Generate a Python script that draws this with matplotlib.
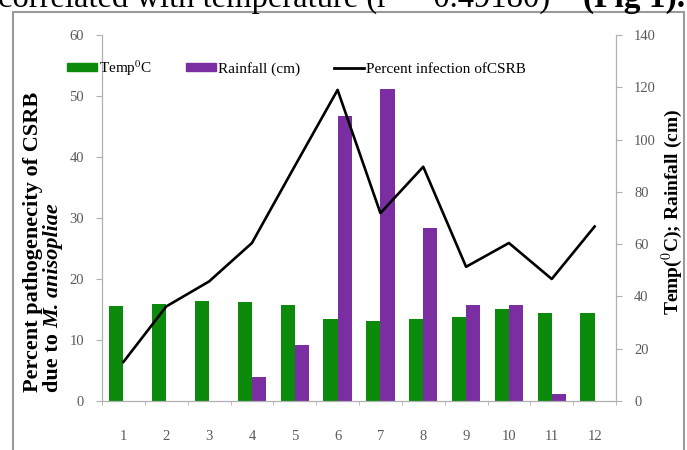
import matplotlib
matplotlib.use('Agg')
import matplotlib.pyplot as plt
from matplotlib.patches import Rectangle, Patch
from matplotlib.lines import Line2D
import numpy as np

plt.rcParams['font.family'] = ['Liberation Serif', 'DejaVu Serif']
plt.rcParams['mathtext.fontset'] = 'stix'

months = ['1', '2', '3', '4', '5', '6', '7', '8', '9', '10', '11', '12']
infection = [6.4, 15.5, 19.6, 25.9, 38.5, 51.0, 30.8, 38.4, 22.0, 25.9, 20.0, 28.6]
temp = [36.3, 37.2, 38.2, 37.8, 36.9, 31.4, 30.5, 31.4, 32.0, 35.3, 33.5, 33.7]
rain = [0, 0, 0, 9.1, 21.5, 109.0, 119.2, 66.0, 36.7, 36.7, 2.6, 0]

green = '#0b8a0b'
purple = '#7a2ea2'
tick_col = '#5a5a5a'
W, H = 687, 450

fig = plt.figure(figsize=(6.87, 4.5), dpi=100)

# cut-off sentence from the page above the figure
fig.text(-2 / W, 1 - 7 / H, 'correlated with temperature (r = -0.49180)', fontsize=23.5,
         ha='left', va='baseline', color='black')
fig.text(685 / W, 1 - 7 / H, '(Fig 1).', fontsize=24, fontweight='bold',
         ha='right', va='baseline', color='black')

# frame around the chart
fig.patches.append(Rectangle((13 / W, -0.05), (684 - 13) / W, 1.05 - 12 / H,
                             transform=fig.transFigure, fill=False, edgecolor='#9a9a9a',
                             linewidth=1.5))

ax = fig.add_axes([102 / W, 1 - 401 / H, (616 - 102) / W, (401 - 35) / H])
ax2 = ax.twinx()

x = np.arange(1, len(months) + 1)
w = 0.33
ax2.bar(x - w / 2, temp, width=w, color=green)
ax2.bar(x + w / 2, rain, width=w, color=purple)
ax.plot(x, infection, color='black', linewidth=1.9)

ax.set_zorder(ax2.get_zorder() + 1)
ax.patch.set_visible(False)

ax.set_xlim(0.5, 12.5)
ax.set_ylim(0, 60)
ax2.set_ylim(0, 140)
ax.set_yticks(range(0, 61, 10))
ax2.set_yticks(range(0, 141, 20))
ax.set_xticks(x)
ax.set_xticklabels(months)
ax.set_xticks(np.arange(0.5, 12.6, 1), minor=True)

for a in (ax, ax2):
    for s in a.spines.values():
        s.set_color('#b0b0b0')
    a.spines['top'].set_visible(False)
ax.tick_params(axis='x', which='major', length=0, pad=21, labelsize=10.5, labelcolor=tick_col)
ax.tick_params(axis='x', which='minor', length=3, direction='out', color='#b0b0b0')
ax.tick_params(axis='y', length=4, pad=9, labelsize=10.5, labelcolor=tick_col, color='#b0b0b0')
ax2.tick_params(axis='y', length=4, pad=9, labelsize=10.5, labelcolor=tick_col, color='#b0b0b0')

# left label, two lines with italic species name
fig.text(33 / W, 1 - 392 / H, 'Percent pathogenecity of CSRB', rotation=90,
         fontsize=16, fontweight='bold', ha='center', va='bottom')
t = fig.text(53 / W, 1 - 392 / H, 'due to', rotation=90,
             fontsize=16, fontweight='bold', ha='center', va='bottom')
fig.canvas.draw()
bb = t.get_window_extent()
fig.text(53 / W, (bb.y1 + 5) / H, 'M. anisopliae', rotation=90,
         fontsize=16, fontweight='bold', style='italic', ha='center', va='bottom')

fig.text(672 / W, 1 - 212 / H, 'Temp($^{0}$C); Rainfall (cm)', rotation=90,
         fontsize=14, fontweight='bold', ha='center', va='center')

handles = [Patch(color=green), Patch(color=purple), Line2D([0], [0], color='black', linewidth=2)]
labels = ['Temp$^{0}$C', 'Rainfall (cm)', 'Percent infection ofCSRB']
ax.legend(handles, labels, ncol=3, frameon=False, loc='upper left',
          bbox_to_anchor=(-0.095, 0.975), fontsize=11, handlelength=2.0,
          handleheight=0.4, handletextpad=0.1, columnspacing=2.2)

fig.savefig('out.png', dpi=100)
